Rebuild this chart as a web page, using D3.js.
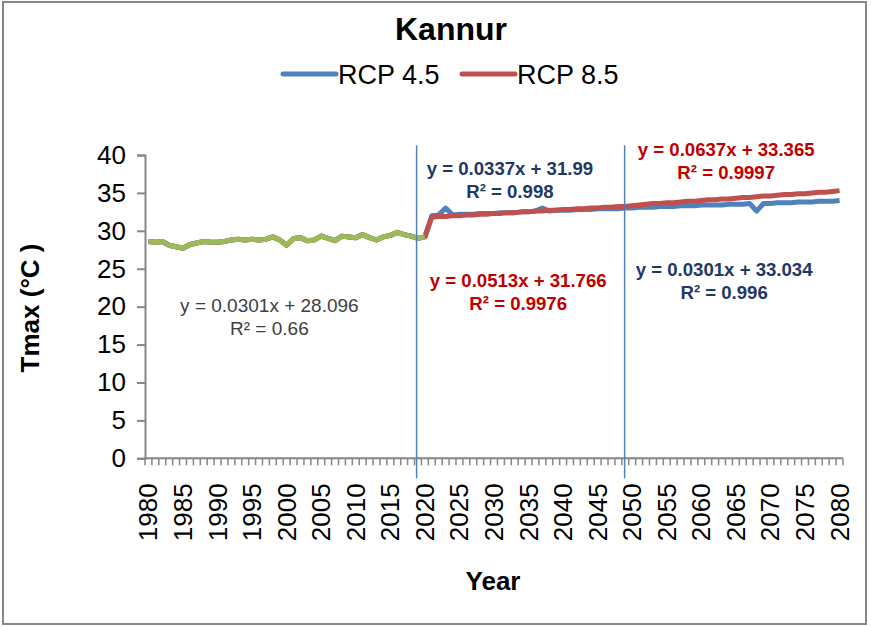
<!DOCTYPE html>
<html><head><meta charset="utf-8">
<script src="https://cdn.jsdelivr.net/npm/d3@7"></script>
<style>html,body{margin:0;padding:0;background:#fff;}svg{display:block;font-family:Arial,"Liberation Sans",sans-serif;}</style>
</head><body>
<script>
// ---- data ----
const histYears = d3.range(1980, 2021);
const histValues = [28.6,28.5,28.6,28.1,27.9,27.7,28.2,28.4,28.6,28.5,28.5,28.6,28.8,28.9,28.8,28.9,28.8,28.9,29.2,28.8,
  28.1,29.0,29.1,28.7,28.8,29.3,29.0,28.7,29.3,29.2,29.1,29.5,29.1,28.8,29.2,29.4,29.8,29.5,29.3,29.0,29.2];
const projYears = d3.range(2021, 2081);
const rcp45 = [32.0,32.1,33.0,32.1,32.2,32.2,32.2,32.3,32.3,32.3,32.4,32.4,32.4,32.5,32.5,32.6,33.0,32.6,32.7,32.7,
  32.7,32.8,32.8,32.8,32.9,32.9,32.9,32.9,33.0,33.0,
  33.1,33.1,33.1,33.2,33.2,33.2,33.3,33.3,33.3,33.4,33.4,33.4,33.4,33.5,33.5,33.5,33.6,32.6,33.6,33.6,
  33.7,33.7,33.7,33.8,33.8,33.8,33.9,33.9,33.9,34.0];
const rcp85 = [31.8,31.9,31.9,32.0,32.0,32.1,32.1,32.2,32.2,32.3,32.3,32.4,32.4,32.5,32.5,32.6,32.6,32.7,32.7,32.8,
  32.8,32.9,32.9,33.0,33.0,33.1,33.1,33.2,33.2,33.3,
  33.4,33.5,33.6,33.6,33.7,33.7,33.8,33.9,33.9,34.0,34.1,34.1,34.2,34.2,34.3,34.4,34.4,34.5,34.6,34.6,
  34.7,34.8,34.8,34.9,34.9,35.0,35.1,35.1,35.2,35.3];
const yTicks = [0,5,10,15,20,25,30,35,40];
const xLabelYears = d3.range(1980, 2081, 5);
const dividerYears = [2018.8, 2048.9];
const seriesNames = ["RCP 4.5", "RCP 8.5"];
const annotations = [
  {lines:["y = 0.0301x + 28.096","R² = 0.66"], x:1997.5, y:19.3, color:"#404040", bold:false},
  {lines:["y = 0.0337x + 31.99","R² = 0.998"], x:2032.3, y:37.4, color:"#1F3864", bold:true},
  {lines:["y = 0.0513x + 31.766","R² = 0.9976"], x:2033.5, y:22.6, color:"#C00000", bold:true},
  {lines:["y = 0.0637x + 33.365","R² = 0.9997"], x:2063.6, y:39.9, color:"#C00000", bold:true},
  {lines:["y = 0.0301x + 33.034","R² = 0.996"], x:2063.3, y:24.1, color:"#1F3864", bold:true}
];

const W = 871, H = 627;
const svg = d3.select("body").append("svg").attr("width", W).attr("height", H);
svg.append("rect").attr("x",3).attr("y",2).attr("width",863).attr("height",622)
  .attr("fill","#fff").attr("stroke","#868686").attr("stroke-width",2);

const x = d3.scaleLinear().domain([1979.5, 2080.5]).range([145, 843]);
const y = d3.scaleLinear().domain([0, 40]).range([458.3, 155]);

const blue = "#4F81BD", red = "#C0504D", green = "#9BBB59", axisC = "#868686";

// y axis
const yAxis = svg.append("g").attr("transform", `translate(${x(1979.5)},0)`)
  .call(d3.axisLeft(y).tickValues(yTicks).tickSize(8).tickPadding(11));
yAxis.select(".domain").attr("stroke", axisC).attr("stroke-width",2);
yAxis.selectAll(".tick line").attr("stroke", axisC).attr("stroke-width",2);
yAxis.selectAll(".tick text").attr("font-size",26).attr("fill","#000").attr("font-family","Arial, 'Liberation Sans', sans-serif");

// x axis
const xg = svg.append("g").attr("transform", `translate(0,${y(0)})`);
xg.append("line").attr("x1", x(1979.5)).attr("x2", x(2080.5)).attr("stroke", axisC).attr("stroke-width",2);
xg.selectAll("line.t").data(d3.range(1979.5, 2081, 1)).join("line").attr("class","t")
  .attr("x1", d=>x(d)).attr("x2", d=>x(d)).attr("y1",0).attr("y2",7).attr("stroke", axisC).attr("stroke-width",1.5);
xg.selectAll("text").data(xLabelYears).join("text")
  .attr("transform", d=>`translate(${x(d)+9},25) rotate(-90)`)
  .attr("text-anchor","end").attr("font-size",26).attr("fill","#000").text(d=>d);

// lines
const line = d3.line().x(d=>x(d[0])).y(d=>y(d[1]));
const hist = histYears.map((yr,i)=>[yr, histValues[i]]);
const s45 = hist.concat(projYears.map((yr,i)=>[yr, rcp45[i]]));
const s85 = hist.concat(projYears.map((yr,i)=>[yr, rcp85[i]]));
svg.append("path").attr("d", line(s45)).attr("fill","none").attr("stroke",blue).attr("stroke-width",5).attr("stroke-linejoin","round");
svg.append("path").attr("d", line(s85)).attr("fill","none").attr("stroke",red).attr("stroke-width",5).attr("stroke-linejoin","round");
svg.append("path").attr("d", line(hist)).attr("fill","none").attr("stroke",green).attr("stroke-width",5).attr("stroke-linejoin","round");

// dividers
svg.selectAll("line.div").data(dividerYears).join("line").attr("class","div")
  .attr("x1", d=>x(d)).attr("x2", d=>x(d)).attr("y1", y(41.3)).attr("y2", y(0)+20)
  .attr("stroke", blue).attr("stroke-width",1.5);

// annotations
annotations.forEach(a=>{
  const t = svg.append("text").attr("x", x(a.x)).attr("y", y(a.y)).attr("text-anchor","middle")
    .attr("font-size",a.bold?18.6:19).attr("font-weight", a.bold?"bold":"normal").attr("fill", a.color);
  a.lines.forEach((l,i)=>t.append("tspan").attr("x", x(a.x)).attr("dy", i?23:0).text(l));
});

// titles
svg.append("text").attr("x",451).attr("y",40).attr("text-anchor","middle").attr("font-size",32).attr("font-weight","bold").text("Kannur");
svg.append("text").attr("transform","translate(39,308) rotate(-90)").attr("text-anchor","middle").attr("font-size",26).attr("font-weight","bold").text("Tmax (°C )");
svg.append("text").attr("x",493).attr("y",590).attr("text-anchor","middle").attr("font-size",26).attr("font-weight","bold").text("Year");

// legend
const leg = svg.append("g");
const legItems = [{name:seriesNames[0], color:blue, x0:283}, {name:seriesNames[1], color:red, x0:462}];
legItems.forEach(d=>{
  leg.append("line").attr("x1",d.x0).attr("x2",d.x0+53).attr("y1",74).attr("y2",74).attr("stroke",d.color).attr("stroke-width",5).attr("stroke-linecap","round");
  leg.append("text").attr("x",d.x0+55).attr("y",84).attr("font-size",27).text(d.name);
});
</script>
</body></html>
